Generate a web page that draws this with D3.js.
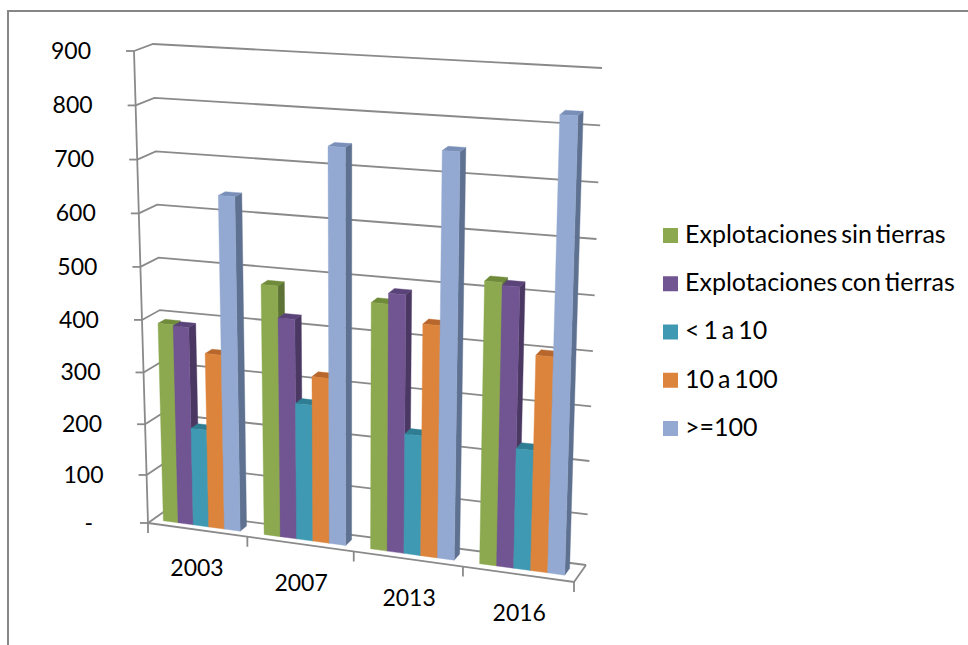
<!DOCTYPE html>
<html>
<head>
<meta charset="utf-8">
<script src="https://cdn.jsdelivr.net/npm/d3@7/dist/d3.min.js"></script>
<style>
html,body{margin:0;padding:0;background:#fff;}
svg{display:block;}
text{font-family:Lato,"Open Sans",sans-serif;fill:#000;}
</style>
</head>
<body>
<svg id="chart" width="968" height="645"></svg>
<script>
const years = ["2003","2007","2013","2016"];
const seriesNames = ["Explotaciones sin tierras","Explotaciones con tierras","< 1 a 10","10 a 100",">=100"];
const sinTierras = [390,482,468,526];
const conTierras = [388,423,488,521];
const menos10 = [195,266,232,229];
const de10a100 = [342,320,438,402];
const mas100 = [640,745,752,829];
const seriesValues = [sinTierras,conTierras,menos10,de10a100,mas100];
const valueTicks = [0,100,200,300,400,500,600,700,800,900];

const frontFace = ["#8ca94f","#715592","#4099b2","#dd843c","#93a9d1"];
const topFace   = ["#6f8b3a","#5a4379","#2f7d93","#b8672c","#7a8fb8"];
const sideFace  = ["#5d7235","#4a3862","#2a6779","#96552a","#5f7190"];
const axisColor = "#8a8a8a";

const svg = d3.select("#chart");

// Corners of the 3-D plot box as seen on the page: floor and ceiling,
// each as [front-left, front-right, back-right, back-left].
const floorBox = [[148,523],[574,582],[586,565],[165,511]];
const ceilBox  = [[134,51],[589,79],[602,68],[153,44]];

// Foreshortening along the category and value directions.
const warpU = d3.scalePow().exponent(1.05).domain([0,1]).range([0,1]);
const warpV = d3.scalePow().exponent(1.04).domain([0,900]).range([0,1]);

const x0 = d3.scaleBand().domain(years).range([0,1]);
const x1 = d3.scaleBand().domain(seriesNames).range([0,x0.bandwidth()]).paddingOuter(0.75).paddingInner(0);

function lerp(a,b,t){return a+(b-a)*t;}
function onPlane(box,s,d){
  const fx=lerp(box[0][0],box[1][0],s), fy=lerp(box[0][1],box[1][1],s);
  const bx=lerp(box[3][0],box[2][0],s), by=lerp(box[3][1],box[2][1],s);
  return [lerp(fx,bx,d),lerp(fy,by,d)];
}
// u: 0..1 along categories, v: data value, d: 0 front .. 1 back
function project(u,v,d){
  const s=warpU(u), t=warpV(v);
  const a=onPlane(floorBox,s,d), b=onPlane(ceilBox,s,d);
  return [lerp(a[0],b[0],t),lerp(a[1],b[1],t)];
}
const line = d3.line();

// Gridlines: along the left wall, then across the back wall
const grid = svg.append("g").attr("fill","none").attr("stroke",axisColor).attr("stroke-width",1.8);
valueTicks.forEach(v=>{
  grid.append("path").attr("d",line([project(0,v,0),project(0,v,1),project(1,v,1)]));
});
// Floor outline and the value axis
grid.append("path").attr("d",line([project(0,0,0),project(1,0,0),project(1,0,1)]));
grid.append("path").attr("d",line([project(0,0,0),project(0,900,0)]));
// Value ticks and labels
valueTicks.forEach(v=>{
  const p=project(0,v,0);
  grid.append("path").attr("d",line([[p[0]-8,p[1]],p]));
  svg.append("text").attr("x",p[0]-43-(v===0?12:0)).attr("y",p[1]+2)
    .attr("text-anchor","end").attr("dominant-baseline","middle")
    .attr("font-size",23).text(v===0?"-":v);
});
// Category ticks
[0,1,2,3,4].forEach(i=>{
  const p=project(i/4,0,0);
  grid.append("path").attr("d",line([p,[p[0],p[1]+10]]));
});
years.forEach(y=>{
  const p=project(x0(y)+x0.bandwidth()/2,0,0);
  svg.append("text").attr("x",p[0]+1).attr("y",p[1]+41)
    .attr("text-anchor","middle").attr("dominant-baseline","middle")
    .attr("font-size",23).text(y);
});

// Bars, drawn left to right so each one covers its neighbour's side face
const depthFront=0.3, depthBack=0.7;
years.forEach((y,i)=>{
  seriesNames.forEach((name,j)=>{
    const v=seriesValues[j][i];
    const u0=x0(y)+x1(name), u1=u0+x1.bandwidth();
    const g=svg.append("g");
    const face=(pts,c)=>g.append("path").attr("d",line(pts)+"Z").attr("fill",c).attr("stroke",c).attr("stroke-width",0.4);
    face([project(u1,0,depthFront),project(u1,0,depthBack),project(u1,v,depthBack),project(u1,v,depthFront)],sideFace[j]);
    face([project(u0,v,depthFront),project(u1,v,depthFront),project(u1,v,depthBack),project(u0,v,depthBack)],topFace[j]);
    face([project(u0,0,depthFront),project(u1,0,depthFront),project(u1,v,depthFront),project(u0,v,depthFront)],frontFace[j]);
  });
});

// Legend
const legendY = d3.scalePoint().domain(seriesNames).range([235.5,428.5]);
seriesNames.forEach((name,j)=>{
  const cy=legendY(name);
  svg.append("rect").attr("x",663).attr("y",cy-7.5).attr("width",15).attr("height",15).attr("fill",frontFace[j]);
  svg.append("text").attr("x",685).attr("y",cy+1).attr("dominant-baseline","middle")
    .attr("font-size",25).attr("word-spacing",-2.5).text(name);
});

// Outer chart border
svg.append("path").attr("fill","none").attr("stroke","#868686").attr("stroke-width",2)
  .attr("d",line([[8,645],[8,11],[968,11]]));
</script>
</body>
</html>
